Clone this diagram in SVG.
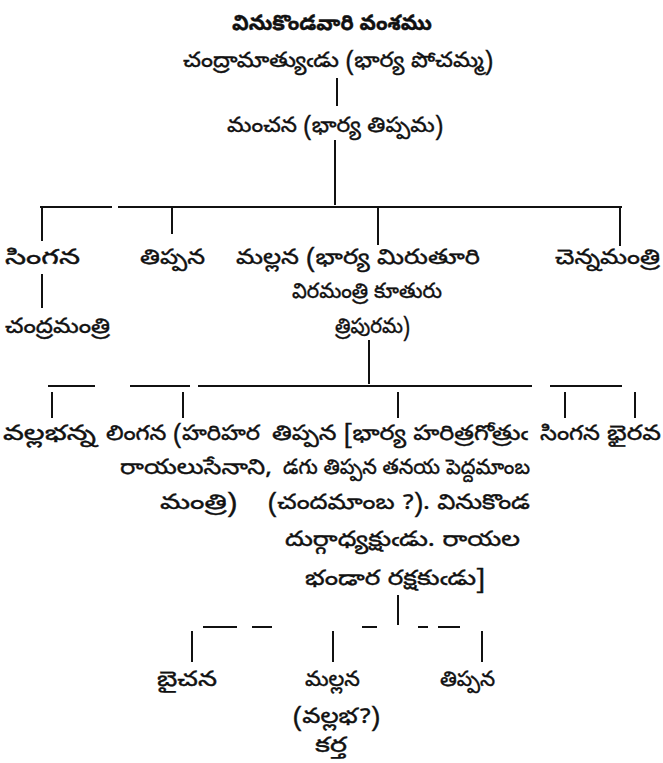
<svg xmlns="http://www.w3.org/2000/svg" width="663" height="763" viewBox="0 0 663 763">
<style>
text{font-family:"Noto Sans Telugu","Lohit Telugu","Pothana2000","Gurajada","Noto Sans",sans-serif;font-size:21px;fill:#111;stroke:#111;stroke-width:0.4}
.t{font-weight:bold}
.c{text-anchor:middle}
line{stroke:#111;stroke-width:2;fill:none}
</style>
<rect width="663" height="763" fill="#fff"/>
<g id="title"><text class="t c" x="332" y="30" textLength="200" lengthAdjust="spacingAndGlyphs">వినుకొండవారి వంశము</text></g>
<g id="n-chandramatya"><text class="c" x="338" y="67" textLength="310" lengthAdjust="spacingAndGlyphs">చంద్రామాత్యుఁడు (భార్య పోచమ్మ)</text></g>
<g id="n-manchana"><text class="c" x="335" y="132" textLength="216" lengthAdjust="spacingAndGlyphs">మంచన (భార్య తిప్పమ)</text></g>
<g id="n-singana1"><text x="5" y="264" textLength="75" lengthAdjust="spacingAndGlyphs">సింగన</text></g>
<g id="n-tippana1"><text x="140" y="264" textLength="65" lengthAdjust="spacingAndGlyphs">తిప్పన</text></g>
<g id="n-mallana1"><text x="236" y="264" textLength="244" lengthAdjust="spacingAndGlyphs">మల్లన (భార్య మిరుతూరి</text><text x="292" y="298" textLength="150" lengthAdjust="spacingAndGlyphs">విరమంత్రి కూతురు</text><text x="335" y="333" textLength="75" lengthAdjust="spacingAndGlyphs">త్రిపురమ)</text></g>
<g id="n-chennamantri"><text x="555" y="264" textLength="105" lengthAdjust="spacingAndGlyphs">చెన్నమంత్రి</text></g>
<g id="n-chandramantri"><text x="5" y="333" textLength="105" lengthAdjust="spacingAndGlyphs">చంద్రమంత్రి</text></g>
<g id="n-vallabhanna"><text x="3" y="440" textLength="93" lengthAdjust="spacingAndGlyphs">వల్లభన్న</text></g>
<g id="n-lingana"><text x="106" y="440" textLength="154" lengthAdjust="spacingAndGlyphs">లింగన (హరిహర</text><text x="120" y="474" textLength="152" lengthAdjust="spacingAndGlyphs">రాయలుసేనాని,</text><text x="160" y="509" textLength="77" lengthAdjust="spacingAndGlyphs">మంత్రి)</text></g>
<g id="n-tippana2"><text x="272" y="440" textLength="256" lengthAdjust="spacingAndGlyphs">తిప్పన [భార్య హరిత్రగోత్రుఁ</text><text x="283" y="474" textLength="247" lengthAdjust="spacingAndGlyphs">డగు తిప్పన తనయ పెద్దమాంబ</text><text x="268" y="509" textLength="262" lengthAdjust="spacingAndGlyphs">(చందమాంబ ?).  వినుకొండ</text><text x="285" y="546" textLength="235" lengthAdjust="spacingAndGlyphs">దుర్గాధ్యక్షుఁడు. రాయల</text><text x="305" y="585" textLength="180" lengthAdjust="spacingAndGlyphs">భండార రక్షకుఁడు]</text></g>
<g id="n-singana2"><text x="540" y="440" textLength="60" lengthAdjust="spacingAndGlyphs">సింగన</text></g>
<g id="n-bhairava"><text x="607" y="440" textLength="54" lengthAdjust="spacingAndGlyphs">భైరవ</text></g>
<g id="n-baichana"><text x="157" y="686" textLength="60" lengthAdjust="spacingAndGlyphs">బైచన</text></g>
<g id="n-mallana2"><text x="305" y="686" textLength="55" lengthAdjust="spacingAndGlyphs">మల్లన</text><text x="293" y="723" textLength="87" lengthAdjust="spacingAndGlyphs">(వల్లభ?)</text><text x="315" y="752" textLength="32" lengthAdjust="spacingAndGlyphs">కర్త</text></g>
<g id="n-tippana3"><text x="440" y="686" textLength="55" lengthAdjust="spacingAndGlyphs">తిప్పన</text></g>
<g id="connectors">
<line x1="337" y1="78" x2="337" y2="106"/>
<line x1="335" y1="140" x2="335" y2="205"/>
<line x1="40" y1="207" x2="112" y2="207"/>
<line x1="118" y1="207" x2="622" y2="207"/>
<line x1="42" y1="207" x2="42" y2="241"/>
<line x1="172" y1="207" x2="172" y2="234"/>
<line x1="378" y1="207" x2="378" y2="245"/>
<line x1="620" y1="207" x2="620" y2="246"/>
<line x1="42" y1="274" x2="42" y2="308"/>
<line x1="369" y1="340" x2="369" y2="384"/>
<line x1="48" y1="386" x2="95" y2="386"/>
<line x1="130" y1="386" x2="190" y2="386"/>
<line x1="198" y1="386" x2="532" y2="386"/>
<line x1="550" y1="386" x2="622" y2="386"/>
<line x1="52" y1="392" x2="52" y2="418"/>
<line x1="183" y1="392" x2="183" y2="418"/>
<line x1="398" y1="392" x2="398" y2="418"/>
<line x1="565" y1="392" x2="565" y2="418"/>
<line x1="635" y1="392" x2="635" y2="418"/>
<line x1="398" y1="595" x2="398" y2="625"/>
<line x1="203" y1="627" x2="237" y2="627"/>
<line x1="252" y1="627" x2="272" y2="627"/>
<line x1="362" y1="627" x2="377" y2="627"/>
<line x1="418" y1="627" x2="428" y2="627"/>
<line x1="438" y1="627" x2="460" y2="627"/>
<line x1="192" y1="631" x2="192" y2="662"/>
<line x1="333" y1="631" x2="333" y2="662"/>
<line x1="482" y1="631" x2="482" y2="662"/>
</g>
</svg>
